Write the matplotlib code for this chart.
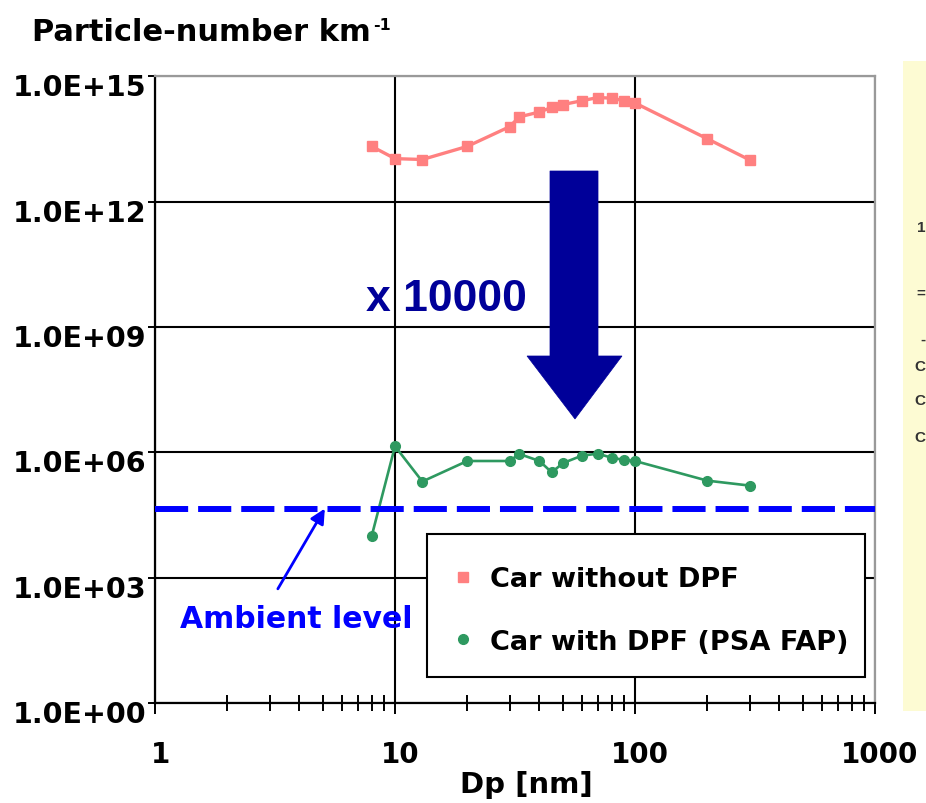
import matplotlib
matplotlib.use('Agg')
import matplotlib.pyplot as plt
from matplotlib.lines import Line2D
from matplotlib.patches import Polygon, Rectangle
from matplotlib.transforms import ScaledTranslation

# particle diameter (nm) and particle number per km
dp = [8, 10, 13, 20, 30, 33, 40, 45, 50, 60, 70, 80, 90, 100, 200, 300]
no_dpf = [2.1e13, 1.07e13, 1.02e13, 2.1e13, 6.2e13, 1.07e14, 1.4e14, 1.8e14,
          2.1e14, 2.6e14, 3.1e14, 3.0e14, 2.6e14, 2.3e14, 3.2e13, 1.0e13]
with_dpf = [1.0e4, 1.4e6, 2.0e5, 6.2e5, 6.2e5, 9.1e5, 6.2e5, 3.3e5,
            5.5e5, 8.3e5, 9.3e5, 7.4e5, 6.6e5, 6.2e5, 2.1e5, 1.6e5]
ambient = 4.5e4

y_ticks = [1e0, 1e3, 1e6, 1e9, 1e12, 1e15]
y_labels = ['1.0E+00', '1.0E+03', '1.0E+06', '1.0E+09', '1.0E+12', '1.0E+15']
x_ticks = [1, 10, 100, 1000]
x_labels = ['1', '10', '100', '1000']
legend_labels = ['Car without DPF', 'Car with DPF (PSA FAP)']

RED = '#ff8080'
GREEN = '#2e9960'
NAVY = '#000099'
BLUE = '#0000ff'
FONT = 'DejaVu Sans'

fig = plt.figure(figsize=(9.26, 8.04), dpi=100)
ax = fig.add_axes([155 / 926, 100 / 804, 720 / 926, 626.7 / 804])

ax.set_xscale('log')
ax.set_yscale('log')
ax.set_xlim(1, 1000)
ax.set_ylim(1, 1e15)

ax.plot(dp, no_dpf, color=RED, lw=2.4, marker='s', ms=7.5, zorder=3)
ax.plot(dp, with_dpf, color=GREEN, lw=1.9, marker='o', ms=7, zorder=3)
ax.axhline(ambient, color=BLUE, lw=4.3, dashes=(5.55, 1.67), zorder=3)

# grid + axes styling
ax.set_axisbelow(True)
ax.grid(True, which='major', color='black', lw=1.5)
for side in ['left', 'bottom']:
    ax.spines[side].set_color('black')
    ax.spines[side].set_linewidth(1.6)
for side in ['top', 'right']:
    ax.spines[side].set_color('#999999')
    ax.spines[side].set_linewidth(1.6)

ax.set_yticks(y_ticks, y_labels)
ax.set_xticks(x_ticks, x_labels)
ax.yaxis.set_minor_locator(matplotlib.ticker.NullLocator())
ax.xaxis.set_minor_locator(matplotlib.ticker.LogLocator(base=10, subs=range(2, 10)))
ax.xaxis.set_minor_formatter(matplotlib.ticker.NullFormatter())
ax.tick_params(axis='y', which='major', direction='out', length=5, width=1.4, pad=1,
               labelsize=20.5)
ax.tick_params(axis='x', which='major', direction='inout', length=16, width=1.4, pad=19,
               labelsize=20)
ax.tick_params(axis='x', which='minor', direction='inout', length=12, width=1.4)
for lab in ax.get_yticklabels():
    lab.set_fontweight('bold')
    lab.set_fontfamily(FONT)
    lab.set_transform(lab.get_transform() + ScaledTranslation(0, -0.08, fig.dpi_scale_trans))
for lab in ax.get_xticklabels():
    lab.set_fontweight('bold')
    lab.set_fontfamily(FONT)
    lab.set_transform(lab.get_transform() + ScaledTranslation(0.05, 0, fig.dpi_scale_trans))

# axis titles
fig.text(32 / 926, 1 - 41 / 804, 'Particle-number km', fontsize=22, fontweight='bold',
         family=FONT, ha='left', va='baseline')
fig.text(373 / 926, 1 - 30 / 804, '-1', fontsize=11.5, fontweight='bold',
         family=FONT, ha='left', va='baseline')
fig.text(526 / 926, 1 - 793 / 804, 'Dp [nm]', fontsize=21, fontweight='bold',
         family=FONT, ha='center', va='baseline')

# big reduction arrow
arrow = Polygon([(0.5486, 0.8489), (0.6153, 0.8489), (0.6153, 0.5537), (0.6486, 0.5537),
                 (0.5833, 0.4532), (0.5167, 0.5537), (0.5486, 0.5537)],
                closed=True, transform=ax.transAxes, facecolor=NAVY, edgecolor=NAVY,
                lw=0.5, zorder=4)
ax.add_patch(arrow)
ax.text(446 / 926, 1 - 300 / 804, 'x 10000', transform=fig.transFigure, fontsize=32,
        fontweight='bold', family='Liberation Sans', color=NAVY, ha='center', va='center',
        zorder=5)

# ambient level annotation
ax.annotate('', xy=(5.1, ambient), xytext=(3.25, 540), xycoords='data',
            arrowprops=dict(arrowstyle='-|>', color=BLUE, lw=2, mutation_scale=22,
                            shrinkA=0, shrinkB=0), zorder=5)
fig.text(296 / 926, 1 - 620 / 804, 'Ambient level', fontsize=21.5, fontweight='bold',
         family=FONT, color=BLUE, ha='center', va='center', zorder=6)

# legend: frame drawn separately so the box size matches the original
ax.add_patch(Rectangle((0.3778, 0.0415), 0.6083, 0.2282, transform=ax.transAxes,
                       facecolor='white', edgecolor='black', lw=1.5, zorder=6))
handles = [Line2D([], [], marker='s', color=RED, ls='none', ms=7.5),
           Line2D([], [], marker='o', color=GREEN, ls='none', ms=7)]
leg = ax.legend(handles, legend_labels, loc='upper left', bbox_to_anchor=(0.409, 0.2186),
                frameon=False, borderpad=0, handlelength=1.0, handletextpad=0.5,
                labelspacing=1.35, borderaxespad=0,
                prop={'family': FONT, 'weight': 'bold', 'size': 19.5})
leg.set_zorder(7)

# cut-off yellow side panel at right edge
fig.patches.append(Rectangle((903 / 926, 1 - 712 / 804), 30 / 926, 650 / 804,
                             transform=fig.transFigure, facecolor='#fdfbd3',
                             edgecolor='none'))
for ch, ypx in [('1', 228), ('=', 294), ('-', 340), ('C', 367), ('C', 401), ('C', 438)]:
    fig.text(925.5 / 926, 1 - ypx / 804, ch, fontsize=11, fontweight='bold',
             family='Liberation Sans', color='#333333', ha='right', va='center')

fig.savefig('out.png', dpi=100, facecolor='white')
